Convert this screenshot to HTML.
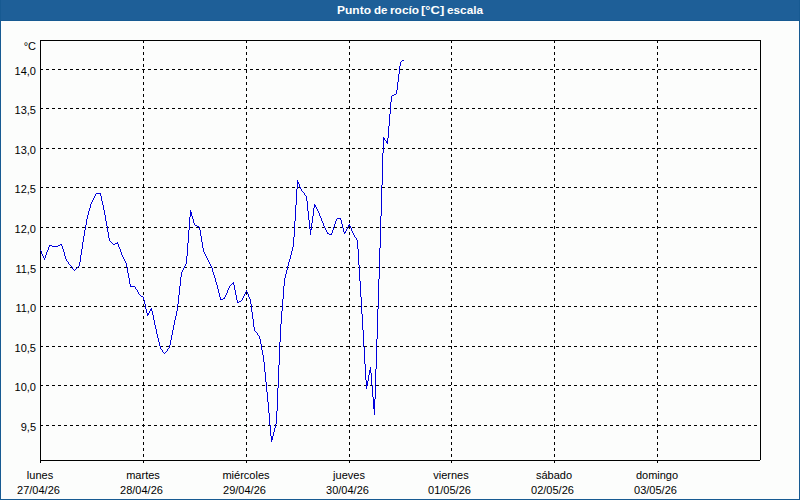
<!DOCTYPE html><html><head><meta charset="utf-8"><style>
html,body{margin:0;padding:0;}
body{width:800px;height:500px;overflow:hidden;position:relative;background:#fcfdfc;font-family:"Liberation Sans",sans-serif;}
.t{position:absolute;white-space:nowrap;font-size:11px;line-height:13px;color:#000;}
.yl{position:absolute;right:764px;white-space:nowrap;font-size:11px;line-height:13px;color:#000;text-align:right;}
.xl{position:absolute;width:100px;text-align:center;white-space:nowrap;font-size:11px;line-height:15px;color:#000;}
</style></head><body>
<div style="position:absolute;left:0;top:0;width:800px;height:20px;background:#1e5f98;"></div>
<div style="position:absolute;left:0;top:20px;width:800px;height:1px;background:#175a92;"></div>
<div style="position:absolute;left:0;top:0;width:1px;height:500px;background:#175a92;"></div>
<div style="position:absolute;left:799px;top:0;width:1px;height:500px;background:#175a92;"></div>
<div style="position:absolute;left:0;top:499px;width:800px;height:1px;background:#175a92;"></div>
<div style="position:absolute;left:337px;top:3px;font-size:11px;line-height:14px;font-weight:bold;color:#fff;white-space:nowrap;transform:scaleX(1.09);transform-origin:0 0;">Punto</div>
<div style="position:absolute;left:373.5px;top:3px;font-size:11px;line-height:14px;font-weight:bold;color:#fff;white-space:nowrap;transform:scaleX(1.05);transform-origin:0 0;">de</div>
<div style="position:absolute;left:389.5px;top:3px;font-size:11px;line-height:14px;font-weight:bold;color:#fff;white-space:nowrap;transform:scaleX(1.08);transform-origin:0 0;">rocío</div>
<div style="position:absolute;left:421px;top:3px;font-size:11px;line-height:14px;font-weight:bold;color:#fff;white-space:nowrap;transform:scaleX(1.18);transform-origin:0 0;">[°C]</div>
<div style="position:absolute;left:446.5px;top:3px;font-size:11px;line-height:14px;font-weight:bold;color:#fff;white-space:nowrap;transform:scaleX(1.07);transform-origin:0 0;">escala</div>
<svg width="800" height="500" style="position:absolute;left:0;top:0" shape-rendering="crispEdges">
<line x1="40" y1="69.5" x2="760" y2="69.5" stroke="#000" stroke-width="1" stroke-dasharray="3 3"/>
<line x1="40" y1="108.5" x2="760" y2="108.5" stroke="#000" stroke-width="1" stroke-dasharray="3 3"/>
<line x1="40" y1="148.5" x2="760" y2="148.5" stroke="#000" stroke-width="1" stroke-dasharray="3 3"/>
<line x1="40" y1="187.5" x2="760" y2="187.5" stroke="#000" stroke-width="1" stroke-dasharray="3 3"/>
<line x1="40" y1="227.5" x2="760" y2="227.5" stroke="#000" stroke-width="1" stroke-dasharray="3 3"/>
<line x1="40" y1="267.5" x2="760" y2="267.5" stroke="#000" stroke-width="1" stroke-dasharray="3 3"/>
<line x1="40" y1="306.5" x2="760" y2="306.5" stroke="#000" stroke-width="1" stroke-dasharray="3 3"/>
<line x1="40" y1="346.5" x2="760" y2="346.5" stroke="#000" stroke-width="1" stroke-dasharray="3 3"/>
<line x1="40" y1="385.5" x2="760" y2="385.5" stroke="#000" stroke-width="1" stroke-dasharray="3 3"/>
<line x1="40" y1="425.5" x2="760" y2="425.5" stroke="#000" stroke-width="1" stroke-dasharray="3 3"/>
<line x1="143.5" y1="40" x2="143.5" y2="460" stroke="#000" stroke-width="1" stroke-dasharray="3 3"/>
<line x1="246.5" y1="40" x2="246.5" y2="460" stroke="#000" stroke-width="1" stroke-dasharray="3 3"/>
<line x1="349.5" y1="40" x2="349.5" y2="460" stroke="#000" stroke-width="1" stroke-dasharray="3 3"/>
<line x1="451.5" y1="40" x2="451.5" y2="460" stroke="#000" stroke-width="1" stroke-dasharray="3 3"/>
<line x1="554.5" y1="40" x2="554.5" y2="460" stroke="#000" stroke-width="1" stroke-dasharray="3 3"/>
<line x1="657.5" y1="40" x2="657.5" y2="460" stroke="#000" stroke-width="1" stroke-dasharray="3 3"/>
<rect x="40" y="40" width="721" height="1" fill="#000"/>
<rect x="40" y="40" width="1" height="423" fill="#000"/>
<rect x="760" y="40" width="1" height="420" fill="#000"/>
<rect x="40" y="460" width="720" height="1" fill="#000"/>
<rect x="143" y="461" width="1" height="2" fill="#000"/>
<rect x="246" y="461" width="1" height="2" fill="#000"/>
<rect x="349" y="461" width="1" height="2" fill="#000"/>
<rect x="451" y="461" width="1" height="2" fill="#000"/>
<rect x="554" y="461" width="1" height="2" fill="#000"/>
<rect x="657" y="461" width="1" height="2" fill="#000"/>
<path d="M40 250h1v1h-1zM41 251h1v3h-1zM42 254h1v2h-1zM43 256h1v2h-1zM44 258h1v2h-1zM45 255h1v3h-1zM46 252h1v3h-1zM47 250h1v2h-1zM48 247h1v3h-1zM49 245h1v2h-1zM50 245h1v1h-1zM51 245h1v1h-1zM52 246h1v1h-1zM53 246h1v1h-1zM54 246h1v1h-1zM55 246h1v1h-1zM56 246h1v1h-1zM57 246h1v1h-1zM58 245h1v1h-1zM59 245h1v1h-1zM60 244h1v1h-1zM61 244h1v2h-1zM62 246h1v3h-1zM63 249h1v3h-1zM64 252h1v4h-1zM65 256h1v3h-1zM66 259h1v2h-1zM67 261h1v1h-1zM68 262h1v2h-1zM69 264h1v1h-1zM70 265h1v1h-1zM71 266h1v1h-1zM72 267h1v2h-1zM73 269h1v1h-1zM74 270h1v1h-1zM75 269h1v1h-1zM76 268h1v1h-1zM77 267h1v1h-1zM78 266h1v1h-1zM79 262h1v4h-1zM80 255h1v7h-1zM81 249h1v6h-1zM82 242h1v7h-1zM83 236h1v6h-1zM84 230h1v6h-1zM85 225h1v5h-1zM86 219h1v6h-1zM87 215h1v4h-1zM88 211h1v4h-1zM89 208h1v3h-1zM90 204h1v4h-1zM91 202h1v2h-1zM92 200h1v2h-1zM93 198h1v2h-1zM94 196h1v2h-1zM95 194h1v2h-1zM96 193h1v1h-1zM97 193h1v1h-1zM98 193h1v1h-1zM99 193h1v1h-1zM100 193h1v3h-1zM101 196h1v5h-1zM102 201h1v4h-1zM103 205h1v5h-1zM104 210h1v5h-1zM105 215h1v6h-1zM106 221h1v5h-1zM107 226h1v6h-1zM108 232h1v6h-1zM109 238h1v3h-1zM110 241h1v1h-1zM111 242h1v1h-1zM112 243h1v1h-1zM113 244h1v1h-1zM114 244h1v1h-1zM115 243h1v1h-1zM116 243h1v1h-1zM117 242h1v2h-1zM118 244h1v3h-1zM119 247h1v2h-1zM120 249h1v3h-1zM121 252h1v3h-1zM122 255h1v2h-1zM123 257h1v2h-1zM124 259h1v2h-1zM125 261h1v2h-1zM126 263h1v4h-1zM127 267h1v6h-1zM128 273h1v5h-1zM129 278h1v6h-1zM130 284h1v3h-1zM131 286h1v1h-1zM132 286h1v1h-1zM133 286h1v1h-1zM134 286h1v1h-1zM135 287h1v2h-1zM136 289h1v1h-1zM137 290h1v2h-1zM138 292h1v2h-1zM139 294h1v1h-1zM140 295h1v1h-1zM141 296h1v1h-1zM142 296h1v1h-1zM143 297h1v3h-1zM144 300h1v4h-1zM145 304h1v5h-1zM146 309h1v4h-1zM147 313h1v3h-1zM148 313h1v2h-1zM149 311h1v2h-1zM150 309h1v2h-1zM151 308h1v3h-1zM152 311h1v4h-1zM153 315h1v5h-1zM154 320h1v5h-1zM155 325h1v4h-1zM156 329h1v5h-1zM157 334h1v4h-1zM158 338h1v4h-1zM159 342h1v4h-1zM160 346h1v3h-1zM161 349h1v1h-1zM162 350h1v2h-1zM163 352h1v1h-1zM164 353h1v1h-1zM165 352h1v1h-1zM166 351h1v1h-1zM167 349h1v2h-1zM168 348h1v1h-1zM169 345h1v3h-1zM170 340h1v5h-1zM171 335h1v5h-1zM172 330h1v5h-1zM173 325h1v5h-1zM174 320h1v5h-1zM175 316h1v4h-1zM176 311h1v5h-1zM177 304h1v7h-1zM178 295h1v9h-1zM179 286h1v9h-1zM180 277h1v9h-1zM181 272h1v5h-1zM182 270h1v2h-1zM183 268h1v2h-1zM184 266h1v2h-1zM185 264h1v2h-1zM186 256h1v8h-1zM187 243h1v13h-1zM188 230h1v13h-1zM189 217h1v13h-1zM190 210h1v7h-1zM191 212h1v4h-1zM192 216h1v3h-1zM193 219h1v4h-1zM194 223h1v2h-1zM195 225h1v1h-1zM196 225h1v1h-1zM197 226h1v1h-1zM198 226h1v1h-1zM199 227h1v3h-1zM200 230h1v6h-1zM201 236h1v6h-1zM202 242h1v6h-1zM203 248h1v4h-1zM204 252h1v2h-1zM205 254h1v2h-1zM206 256h1v2h-1zM207 258h1v2h-1zM208 260h1v2h-1zM209 262h1v2h-1zM210 264h1v2h-1zM211 266h1v2h-1zM212 268h1v4h-1zM213 272h1v3h-1zM214 275h1v3h-1zM215 278h1v4h-1zM216 282h1v3h-1zM217 285h1v4h-1zM218 289h1v4h-1zM219 293h1v4h-1zM220 297h1v3h-1zM221 299h1v1h-1zM222 299h1v1h-1zM223 298h1v1h-1zM224 297h1v2h-1zM225 295h1v2h-1zM226 293h1v2h-1zM227 290h1v3h-1zM228 288h1v2h-1zM229 286h1v2h-1zM230 285h1v1h-1zM231 284h1v1h-1zM232 283h1v1h-1zM233 282h1v3h-1zM234 285h1v5h-1zM235 290h1v5h-1zM236 295h1v5h-1zM237 300h1v3h-1zM238 302h1v1h-1zM239 301h1v1h-1zM240 301h1v1h-1zM241 300h1v1h-1zM242 298h1v2h-1zM243 296h1v2h-1zM244 294h1v2h-1zM245 292h1v2h-1zM246 290h1v2h-1zM247 292h1v2h-1zM248 294h1v3h-1zM249 297h1v2h-1zM250 299h1v5h-1zM251 304h1v8h-1zM252 312h1v7h-1zM253 319h1v8h-1zM254 327h1v4h-1zM255 331h1v1h-1zM256 332h1v1h-1zM257 333h1v2h-1zM258 335h1v1h-1zM259 336h1v3h-1zM260 339h1v5h-1zM261 344h1v6h-1zM262 350h1v5h-1zM263 355h1v7h-1zM264 362h1v10h-1zM265 372h1v10h-1zM266 382h1v10h-1zM267 392h1v10h-1zM268 402h1v11h-1zM269 413h1v12h-1zM270 425h1v11h-1zM271 436h1v6h-1zM272 436h1v4h-1zM273 432h1v4h-1zM274 428h1v4h-1zM275 424h1v4h-1zM276 411h1v13h-1zM277 388h1v23h-1zM278 365h1v23h-1zM279 342h1v23h-1zM280 324h1v18h-1zM281 311h1v13h-1zM282 299h1v12h-1zM283 286h1v13h-1zM284 278h1v8h-1zM285 274h1v4h-1zM286 270h1v4h-1zM287 266h1v4h-1zM288 262h1v4h-1zM289 259h1v3h-1zM290 255h1v4h-1zM291 251h1v4h-1zM292 247h1v4h-1zM293 237h1v10h-1zM294 221h1v16h-1zM295 205h1v16h-1zM296 189h1v16h-1zM297 180h1v9h-1zM298 182h1v2h-1zM299 184h1v3h-1zM300 187h1v2h-1zM301 189h1v2h-1zM302 191h1v1h-1zM303 192h1v1h-1zM304 193h1v2h-1zM305 195h1v1h-1zM306 196h1v5h-1zM307 201h1v10h-1zM308 211h1v9h-1zM309 220h1v9h-1zM310 229h1v6h-1zM311 223h1v7h-1zM312 216h1v7h-1zM313 208h1v8h-1zM314 204h1v4h-1zM315 205h1v2h-1zM316 207h1v2h-1zM317 209h1v2h-1zM318 211h1v2h-1zM319 213h1v3h-1zM320 216h1v2h-1zM321 218h1v3h-1zM322 221h1v2h-1zM323 223h1v3h-1zM324 226h1v2h-1zM325 228h1v2h-1zM326 230h1v2h-1zM327 232h1v2h-1zM328 233h1v1h-1zM329 234h1v1h-1zM330 234h1v1h-1zM331 233h1v2h-1zM332 230h1v3h-1zM333 227h1v3h-1zM334 224h1v3h-1zM335 221h1v3h-1zM336 219h1v2h-1zM337 218h1v1h-1zM338 218h1v1h-1zM339 218h1v1h-1zM340 218h1v2h-1zM341 220h1v4h-1zM342 224h1v4h-1zM343 228h1v4h-1zM344 232h1v2h-1zM345 231h1v2h-1zM346 229h1v2h-1zM347 227h1v2h-1zM348 225h1v2h-1zM349 224h1v2h-1zM350 226h1v2h-1zM351 228h1v3h-1zM352 231h1v2h-1zM353 233h1v2h-1zM354 235h1v2h-1zM355 237h1v1h-1zM356 238h1v2h-1zM357 240h1v9h-1zM358 249h1v16h-1zM359 265h1v16h-1zM360 281h1v16h-1zM361 297h1v17h-1zM362 314h1v16h-1zM363 330h1v17h-1zM364 347h1v17h-1zM365 364h1v16h-1zM366 380h1v9h-1zM367 381h1v5h-1zM368 375h1v6h-1zM369 370h1v5h-1zM370 367h1v6h-1zM371 373h1v12h-1zM372 385h1v12h-1zM373 397h1v12h-1zM374 399h1v16h-1zM375 369h1v30h-1zM376 339h1v30h-1zM377 309h1v30h-1zM378 279h1v30h-1zM379 248h1v31h-1zM380 216h1v32h-1zM381 185h1v31h-1zM382 153h1v32h-1zM383 137h1v16h-1zM384 138h1v2h-1zM385 140h1v1h-1zM386 141h1v2h-1zM387 138h1v6h-1zM388 126h1v12h-1zM389 114h1v12h-1zM390 102h1v12h-1zM391 96h1v6h-1zM392 95h1v1h-1zM393 95h1v1h-1zM394 94h1v1h-1zM395 94h1v1h-1zM396 90h1v4h-1zM397 82h1v8h-1zM398 74h1v8h-1zM399 66h1v8h-1zM400 62h1v4h-1zM401 61h1v1h-1zM402 60h1v1h-1zM403 60h1v1h-1z" fill="#0000dc"/>
</svg>
<div class="yl" style="top:40px;">°C</div>
<div class="yl" style="top:65px;">14,0</div>
<div class="yl" style="top:104px;">13,5</div>
<div class="yl" style="top:144px;">13,0</div>
<div class="yl" style="top:183px;">12,5</div>
<div class="yl" style="top:223px;">12,0</div>
<div class="yl" style="top:263px;">11,5</div>
<div class="yl" style="top:302px;">11,0</div>
<div class="yl" style="top:342px;">10,5</div>
<div class="yl" style="top:381px;">10,0</div>
<div class="yl" style="top:421px;">9,5</div>
<div class="xl" style="left:-10px;top:468px;">lunes</div>
<div class="xl" style="left:-11.5px;top:483px;">27/04/26</div>
<div class="xl" style="left:93px;top:468px;">martes</div>
<div class="xl" style="left:91.5px;top:483px;">28/04/26</div>
<div class="xl" style="left:196px;top:468px;">miércoles</div>
<div class="xl" style="left:194.5px;top:483px;">29/04/26</div>
<div class="xl" style="left:299px;top:468px;">jueves</div>
<div class="xl" style="left:297.5px;top:483px;">30/04/26</div>
<div class="xl" style="left:401px;top:468px;">viernes</div>
<div class="xl" style="left:399.5px;top:483px;">01/05/26</div>
<div class="xl" style="left:504px;top:468px;">sábado</div>
<div class="xl" style="left:502.5px;top:483px;">02/05/26</div>
<div class="xl" style="left:607px;top:468px;">domingo</div>
<div class="xl" style="left:605.5px;top:483px;">03/05/26</div>
</body></html>
